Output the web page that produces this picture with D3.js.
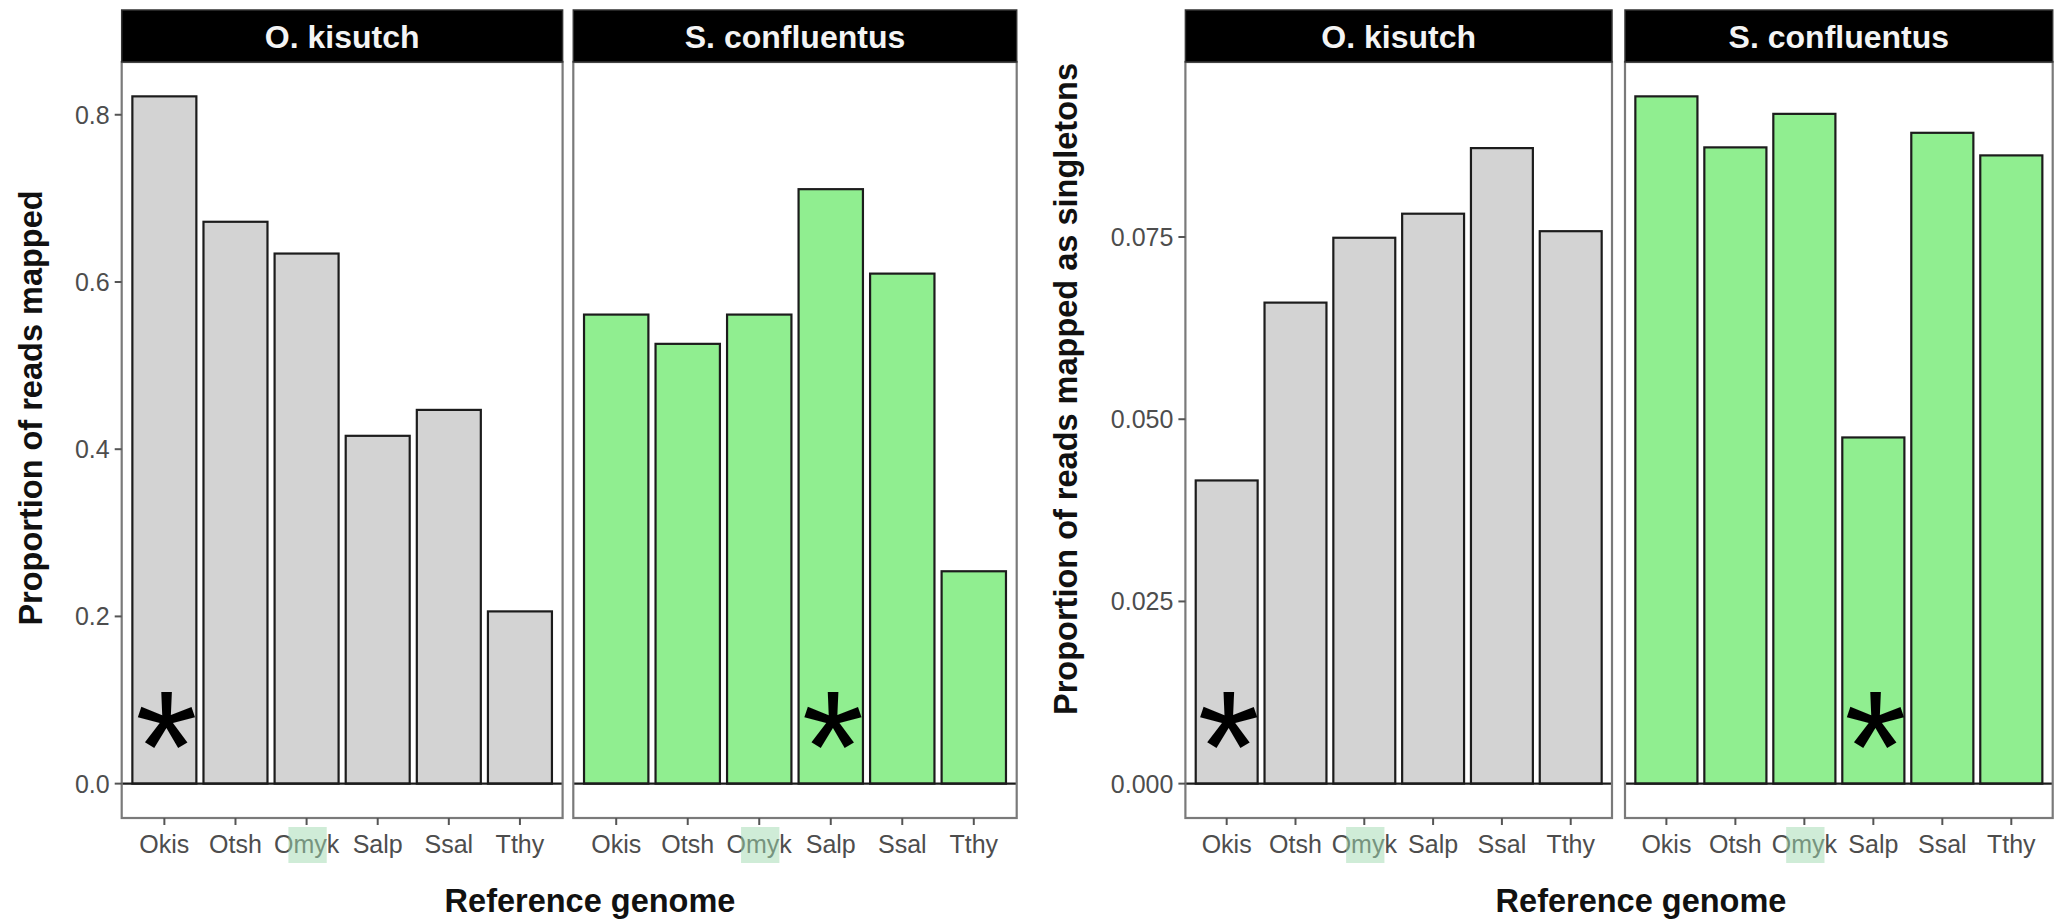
<!DOCTYPE html>
<html>
<head>
<meta charset="utf-8">
<script src="https://cdn.jsdelivr.net/npm/d3@7"></script>
<style>
  html, body { margin: 0; padding: 0; background: #fff; }
  svg { display: block; font-family: "Liberation Sans", Arial, sans-serif; }
</style>
</head>
<body>
<svg id="chart" width="2060" height="920"></svg>
<script>
// Reference genomes on the x axis
const genomes = ["Okis", "Otsh", "Omyk", "Salp", "Ssal", "Tthy"];
// Facet labels (species whose reads are mapped)
const species = ["O. kisutch", "S. confluentus"];
// Genome of each species' own genus, marked with an asterisk
const ownGenome = ["Okis", "Salp"];
// Genome name highlighted on the axis
const highlightGenome = "Omyk";

// Proportion of reads mapped
const mappedKisutch = [0.822, 0.672, 0.634, 0.416, 0.447, 0.206];
const mappedConfluentus = [0.561, 0.526, 0.561, 0.711, 0.610, 0.254];
const mappedTicks = [0, 0.2, 0.4, 0.6, 0.8];
const mappedTickLabels = ["0.0", "0.2", "0.4", "0.6", "0.8"];

// Proportion of reads mapped as singletons
const singletonKisutch = [0.0416, 0.0660, 0.0749, 0.0782, 0.0872, 0.0758];
const singletonConfluentus = [0.0943, 0.0873, 0.0919, 0.0475, 0.0893, 0.0862];
const singletonTicks = [0, 0.025, 0.05, 0.075];
const singletonTickLabels = ["0.000", "0.025", "0.050", "0.075"];

const fills = ["#d3d3d3", "#90ee90"];

const svg = d3.select("#chart");

const stripTop = 10, panelTop = 62, panelBottom = 818;

function drawFigure(cfg) {
  const allVals = cfg.series.flat();
  const vmax = d3.max(allVals);
  const y = d3.scaleLinear()
    .domain([-0.05 * vmax, 1.05 * vmax])
    .range([panelBottom, panelTop]);

  cfg.panels.forEach((p, i) => {
    const g = svg.append("g");
    const x = d3.scaleBand()
      .domain(genomes)
      .range([p[0], p[1]])
      .paddingInner(0.1)
      .paddingOuter(0.6 - 0.05);
    // band centers follow ggplot's discrete expansion of 0.6 units
    const step = (p[1] - p[0]) / (genomes.length - 1 + 1.2);
    const cx = d => p[0] + step * (0.6 + genomes.indexOf(d));
    const bw = step * 0.9;

    g.append("rect")
      .attr("x", p[0]).attr("y", panelTop)
      .attr("width", p[1] - p[0]).attr("height", panelBottom - panelTop)
      .attr("fill", "#fff");

    const data = genomes.map((k, j) => ({ k, v: cfg.series[i][j] }));
    g.selectAll("rect.bar").data(data).join("rect")
      .attr("class", "bar")
      .attr("x", d => cx(d.k) - bw / 2)
      .attr("width", bw)
      .attr("y", d => y(d.v))
      .attr("height", d => y(0) - y(d.v))
      .attr("fill", fills[i])
      .attr("stroke", "#1c1c1c")
      .attr("stroke-width", 2.2);

    // reference line at zero
    g.append("line")
      .attr("x1", p[0]).attr("x2", p[1])
      .attr("y1", y(0)).attr("y2", y(0))
      .attr("stroke", "#1c1c1c").attr("stroke-width", 2.4);

    // panel border
    g.append("rect")
      .attr("x", p[0]).attr("y", panelTop)
      .attr("width", p[1] - p[0]).attr("height", panelBottom - panelTop)
      .attr("fill", "none").attr("stroke", "#7a7a7a").attr("stroke-width", 2.2);

    // strip
    g.append("rect")
      .attr("x", p[0]).attr("y", stripTop)
      .attr("width", p[1] - p[0]).attr("height", panelTop - stripTop)
      .attr("fill", "#000").attr("stroke", "#333").attr("stroke-width", 1.5);
    g.append("text")
      .attr("x", (p[0] + p[1]) / 2).attr("y", (stripTop + panelTop) / 2 + 1)
      .attr("text-anchor", "middle").attr("dominant-baseline", "central")
      .attr("fill", "#f4f4f4").attr("font-weight", "bold").attr("font-size", 32)
      .text(species[i]);

    // x axis ticks and labels
    g.selectAll("line.xt").data(genomes).join("line")
      .attr("class", "xt")
      .attr("x1", d => cx(d)).attr("x2", d => cx(d))
      .attr("y1", panelBottom).attr("y2", panelBottom + 7)
      .attr("stroke", "#555").attr("stroke-width", 2);
    g.selectAll("text.xl").data(genomes).join("text")
      .attr("class", "xl")
      .attr("x", d => cx(d)).attr("y", 853)
      .attr("text-anchor", "middle")
      .attr("fill", "#4d4d4d").attr("font-size", 25)
      .text(d => d);

    // highlight on part of one genome label
    const hx = cx(highlightGenome);
    const lbl = g.selectAll("text.xl").filter(d => d === highlightGenome).node();
    const bb = lbl.getBBox();
    const oW = lbl.getSubStringLength(0, 1);
    const hl = lbl.getSubStringLength(0, 3) - oW;
    g.append("rect")
      .attr("x", bb.x + oW - 5).attr("y", 827)
      .attr("width", hl + 5).attr("height", 36)
      .attr("fill", "#9fd9b0").attr("opacity", 0.5);

    // asterisk over the species' own genus genome
    const star = g.append("text")
      .attr("x", cx(ownGenome[i])).attr("y", 0)
      .attr("text-anchor", "middle")
      .attr("font-size", 160).attr("fill", "#000")
      .text("*");
    const sb = star.node().getBBox();
    const targetCy = y(0) - 37;
    star.attr("y", targetCy - (sb.y + sb.height / 2));
    star.attr("x", cx(ownGenome[i]) + 2);

    // y axis on the first panel only
    if (i === 0) {
      g.selectAll("line.yt").data(cfg.ticks).join("line")
        .attr("class", "yt")
        .attr("x1", p[0] - 7).attr("x2", p[0])
        .attr("y1", d => y(d)).attr("y2", d => y(d))
        .attr("stroke", "#555").attr("stroke-width", 2);
      g.selectAll("text.yl").data(cfg.ticks).join("text")
        .attr("class", "yl")
        .attr("x", p[0] - 12).attr("y", d => y(d))
        .attr("text-anchor", "end").attr("dominant-baseline", "central")
        .attr("fill", "#4d4d4d").attr("font-size", 25)
        .text((d, j) => cfg.tickLabels[j]);
    }
  });

  // axis titles
  svg.append("text")
    .attr("transform", `translate(${cfg.yTitlePos[0]},${cfg.yTitlePos[1]}) rotate(-90)`)
    .attr("text-anchor", "middle").attr("dominant-baseline", "central")
    .attr("font-weight", "bold").attr("font-size", 32.5).attr("fill", "#111")
    .text(cfg.yTitle);
  svg.append("text")
    .attr("x", cfg.xTitleX).attr("y", 912)
    .attr("text-anchor", "middle")
    .attr("font-weight", "bold").attr("font-size", 32.5).attr("fill", "#111")
    .text("Reference genome");
}

drawFigure({
  panels: [[121.7, 562.6], [573.3, 1016.7]],
  series: [mappedKisutch, mappedConfluentus],
  ticks: mappedTicks,
  tickLabels: mappedTickLabels,
  yTitle: "Proportion of reads mapped",
  yTitlePos: [31, 408],
  xTitleX: 590
});

drawFigure({
  panels: [[1185.4, 1612], [1625, 2052.7]],
  series: [singletonKisutch, singletonConfluentus],
  ticks: singletonTicks,
  tickLabels: singletonTickLabels,
  yTitle: "Proportion of reads mapped as singletons",
  yTitlePos: [1066, 389],
  xTitleX: 1641
});
</script>
</body>
</html>
